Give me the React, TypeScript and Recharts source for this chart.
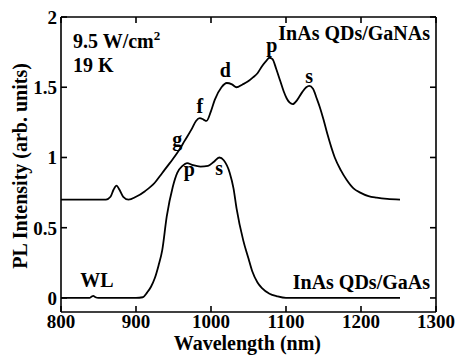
import React from 'react';
import { LineChart, Line, XAxis, YAxis, ReferenceDot, ReferenceLine } from 'recharts';

const FONT = '"Liberation Serif", "Times New Roman", serif';

// InAs QDs/GaNAs (upper curve)
const gaNAsWavelength = [800, 860, 866, 870, 874, 878, 883, 890, 900, 912, 925, 935, 945, 956, 965, 974, 980, 985, 990, 994, 1000, 1005, 1014, 1021, 1028, 1034, 1042, 1049, 1056, 1062, 1068, 1074, 1078, 1082, 1087, 1092, 1097, 1101, 1105, 1109, 1115, 1121, 1127, 1131, 1136, 1141, 1145, 1150, 1155, 1165, 1173, 1181, 1190, 1199, 1210, 1221, 1235, 1252];
const gaNAsIntensity = [0.70, 0.70, 0.72, 0.77, 0.80, 0.77, 0.72, 0.70, 0.72, 0.76, 0.82, 0.89, 0.96, 1.04, 1.12, 1.20, 1.26, 1.28, 1.27, 1.26, 1.33, 1.41, 1.50, 1.53, 1.52, 1.50, 1.52, 1.54, 1.57, 1.60, 1.65, 1.69, 1.71, 1.70, 1.63, 1.55, 1.47, 1.42, 1.39, 1.38, 1.41, 1.46, 1.50, 1.51, 1.49, 1.42, 1.36, 1.27, 1.17, 1.00, 0.91, 0.84, 0.78, 0.75, 0.725, 0.714, 0.705, 0.70];

// InAs QDs/GaAs (lower curve)
const gaAsWavelength = [800, 838, 841, 843, 846, 850, 900, 909, 915, 920, 925, 930, 935, 941, 949, 955, 962, 968, 976, 986, 996, 1004, 1011, 1017, 1025, 1030, 1034, 1043, 1050, 1055, 1062, 1068, 1078, 1088, 1100, 1252];
const gaAsIntensity = [0, 0, 0.01, 0.015, 0.005, 0, 0, 0.005, 0.04, 0.08, 0.14, 0.23, 0.34, 0.58, 0.79, 0.89, 0.94, 0.96, 0.945, 0.935, 0.94, 0.97, 1.0, 0.98, 0.89, 0.78, 0.64, 0.41, 0.28, 0.19, 0.11, 0.07, 0.03, 0.012, 0.0, 0.0];

const xTicks = [800, 900, 1000, 1100, 1200, 1300];
const yTicks = [0, 0.5, 1, 1.5, 2];
const yTickLabels = ['0', '0.5', '1', '1.5', '2'];
const X_MIN = 800;
const X_MAX = 1300;
const Y_MIN = -0.1;
const Y_MAX = 2;

// Annotations (data coordinates, text baseline)
const annotationText = ['9.5 W/cm', '19 K', 'InAs QDs/GaNAs', 'InAs QDs/GaAs', 'WL', 'g', 'f', 'd', 'p', 's', 'p', 's'];
const annotationSup = ['2', '', '', '', '', '', '', '', '', '', '', ''];
const annotationX = [816, 816, 1292, 1292, 848, 955, 985, 1019, 1081, 1131, 971, 1011];
const annotationY = [1.78, 1.61, 1.836, 0.064, 0.078, 1.084, 1.317, 1.573, 1.75, 1.53, 0.868, 0.875];
const annotationAnchor = ['start', 'start', 'end', 'end', 'middle', 'middle', 'middle', 'middle', 'middle', 'middle', 'middle', 'middle'];

const gaNAsData = gaNAsWavelength.map((w, i) => ({ w, v: gaNAsIntensity[i] }));
const gaAsData = gaAsWavelength.map((w, i) => ({ w, v: gaAsIntensity[i] }));

const TICK_LEN = 6;
const AX_STROKE = 1.6;

function center(props: any) {
  const vb = props.viewBox || {};
  return { cx: (vb.x ?? 0) + (vb.width ?? 0) / 2, cy: (vb.y ?? 0) + (vb.height ?? 0) / 2 };
}

const txt = { fill: '#000', fontWeight: 700, fontFamily: FONT } as const;

function bottomTick(label: string) {
  return (props: any) => {
    const { cx, cy } = center(props);
    return (
      <g>
        <path d={`M${cx},${cy}V${cy - TICK_LEN}`} stroke="#000" strokeWidth={AX_STROKE} fill="none" />
        <text x={cx} y={cy + 16} textAnchor="middle" fontSize={19} {...txt}>{label}</text>
      </g>
    );
  };
}

function topTick() {
  return (props: any) => {
    const { cx, cy } = center(props);
    return <path d={`M${cx},${cy}V${cy + TICK_LEN}`} stroke="#000" strokeWidth={AX_STROKE} fill="none" />;
  };
}

function leftTick(label: string) {
  return (props: any) => {
    const { cx, cy } = center(props);
    return (
      <g>
        <path d={`M${cx},${cy}H${cx + TICK_LEN}`} stroke="#000" strokeWidth={AX_STROKE} fill="none" />
        <text x={cx - 4} y={cy + 7} textAnchor="end" fontSize={19} {...txt}>{label}</text>
      </g>
    );
  };
}

function rightTick() {
  return (props: any) => {
    const { cx, cy } = center(props);
    return <path d={`M${cx},${cy}H${cx - TICK_LEN}`} stroke="#000" strokeWidth={AX_STROKE} fill="none" />;
  };
}

function xTitle() {
  return (props: any) => {
    const { cx, cy } = center(props);
    return (
      <text x={cx} y={cy + 38} textAnchor="middle" fontSize={20} {...txt}>Wavelength (nm)</text>
    );
  };
}

function yTitle() {
  return (props: any) => {
    const { cx, cy } = center(props);
    const x = cx - 34;
    return (
      <text x={x} y={cy} transform={`rotate(-90, ${x}, ${cy})`} textAnchor="middle" fontSize={20} {...txt}>
        PL Intensity (arb. units)
      </text>
    );
  };
}

function makeLabel(i: number) {
  return (props: any) => {
    const { cx, cy } = center(props);
    return (
      <text x={cx} y={cy} textAnchor={annotationAnchor[i]} fontSize={20} {...txt}>
        {annotationText[i]}
        {annotationSup[i] ? (
          <tspan dy={-8} fontSize={13}>{annotationSup[i]}</tspan>
        ) : null}
      </text>
    );
  };
}

const dotCommon = { xAxisId: 'x', yAxisId: 'y', r: 1, fill: 'none', stroke: 'none', ifOverflow: 'visible' as const };
const lineCommon = { xAxisId: 'x', yAxisId: 'y', stroke: '#000', strokeWidth: AX_STROKE, ifOverflow: 'visible' as const };

export default function App() {
  return (
    <div style={{ position: 'absolute', left: 0, top: 0 }}>
      <style>{`body{margin:0}`}</style>
      <LineChart width={456} height={358} margin={{ top: 17, right: 20, left: 61, bottom: 46 }}>
        <XAxis xAxisId="x" dataKey="w" type="number" domain={[X_MIN, X_MAX]} ticks={xTicks} allowDataOverflow hide />
        <YAxis yAxisId="y" type="number" domain={[Y_MIN, Y_MAX]} ticks={yTicks} allowDataOverflow hide />
        <ReferenceLine {...lineCommon} x={X_MIN} />
        <ReferenceLine {...lineCommon} x={X_MAX} />
        <ReferenceLine {...lineCommon} y={Y_MIN} />
        <ReferenceLine {...lineCommon} y={Y_MAX} />
        <Line
          xAxisId="x"
          yAxisId="y"
          data={gaNAsData}
          dataKey="v"
          type="monotone"
          stroke="#000"
          strokeWidth={1.8}
          dot={false}
          activeDot={false}
          isAnimationActive={false}
        />
        <Line
          xAxisId="x"
          yAxisId="y"
          data={gaAsData}
          dataKey="v"
          type="monotone"
          stroke="#000"
          strokeWidth={1.8}
          dot={false}
          activeDot={false}
          isAnimationActive={false}
        />
        {xTicks.map((t) => (
          <ReferenceDot key={`xb${t}`} {...dotCommon} x={t} y={Y_MIN} label={{ content: bottomTick(String(t)) }} />
        ))}
        {xTicks.map((t) => (
          <ReferenceDot key={`xt${t}`} {...dotCommon} x={t} y={Y_MAX} label={{ content: topTick() }} />
        ))}
        {yTicks.map((t, i) => (
          <ReferenceDot key={`yl${t}`} {...dotCommon} x={X_MIN} y={t} label={{ content: leftTick(yTickLabels[i]) }} />
        ))}
        {yTicks.map((t) => (
          <ReferenceDot key={`yr${t}`} {...dotCommon} x={X_MAX} y={t} label={{ content: rightTick() }} />
        ))}
        <ReferenceDot {...dotCommon} x={(X_MIN + X_MAX) / 2 - 1.5} y={Y_MIN} label={{ content: xTitle() }} />
        <ReferenceDot {...dotCommon} x={X_MIN} y={(Y_MIN + Y_MAX) / 2 - 0.01} label={{ content: yTitle() }} />
        {annotationText.map((t, i) => (
          <ReferenceDot key={`a${i}`} {...dotCommon} x={annotationX[i]} y={annotationY[i]} label={{ content: makeLabel(i) }} />
        ))}
      </LineChart>
    </div>
  );
}
